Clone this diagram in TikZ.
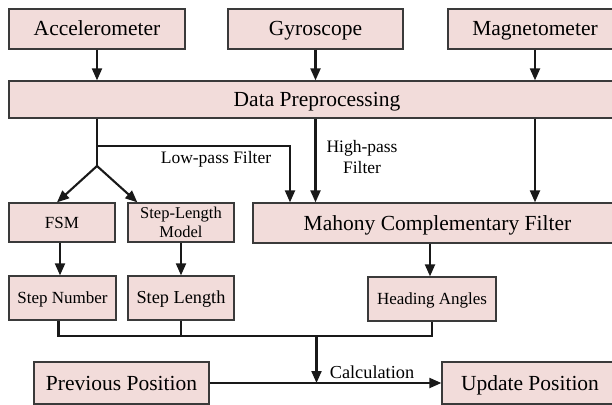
\documentclass[tikz,border=0pt]{standalone}
\usepackage{fontspec}
\setmainfont{Liberation Serif}
\usetikzlibrary{arrows.meta,calc}
\definecolor{boxfill}{RGB}{242,220,218}
\definecolor{boxline}{RGB}{58,58,58}
\begin{document}
\begin{tikzpicture}[x=1pt,y=-1pt,
  box/.style={draw=boxline, fill=boxfill, line width=1.3pt, rectangle, inner sep=0pt, align=center},
  big/.style={font=\fontsize{21.5}{24}\selectfont, text height=14pt, text depth=0pt},
  small/.style={font=\fontsize{17}{19}\selectfont, text height=11.2pt, text depth=0pt},
  conn/.style={line width=2.1pt, draw=black!90},
  arr/.style={conn, -{Triangle[length=12pt,width=10pt]}},
  lbl/.style={font=\fontsize{17.5}{21}\selectfont, align=center, inner sep=0pt}]
\useasboundingbox (0,0) rectangle (612,404);
\clip (0,0) rectangle (612,404);

% sensors
\node[box,big,minimum width=176pt,minimum height=40pt] (acc)  at (97,29)    {Accelerometer};
\node[box,big,minimum width=175pt,minimum height=40pt] (gyro) at (315.5,29) {Gyroscope};
\node[box,big,minimum width=174pt,minimum height=40pt] (mag)  at (535,29)   {Magnetometer};

% preprocessing
\node[box,big,minimum width=616pt,minimum height=37pt] (dp) at (317,99.5) {Data Preprocessing};

% processing stage
\node[box,small,minimum width=106pt,minimum height=39pt] (fsm) at (62,222.5) {FSM};
\node[box,minimum width=106pt,minimum height=39pt,font=\fontsize{16.5}{19.5}\selectfont] (slm) at (181,222.5) {Step-Length\\Model};
\node[box,big,minimum width=369pt,minimum height=40pt] (mahony) at (437.5,223) {Mahony Complementary Filter};

% intermediate results
\node[box,small,minimum width=107pt,minimum height=44pt] (stepnum) at (62.5,298) {Step Number};
\node[box,small,minimum width=106pt,minimum height=44pt,font=\fontsize{18.3}{20}\selectfont] (steplen) at (181,298) {Step Length};
\node[box,small,minimum width=128pt,minimum height=44pt] (heading) at (432,299) {Heading Angles};

% positions
\node[box,big,minimum width=175pt,minimum height=42pt] (prev)   at (121.5,383) {Previous Position};
\node[box,big,minimum width=176pt,minimum height=42pt] (update) at (530,383)   {Update Position};

% sensors into preprocessing
\draw[arr] (acc.south)  -- (acc.south |- dp.north);
\draw[arr] (gyro.south) -- (gyro.south |- dp.north);
\draw[arr] (mag.south)  -- (mag.south |- dp.north);

% accelerometer branch
\coordinate (lp)    at (97,146);
\coordinate (lpc)   at (290,146);
\coordinate (split) at (97,166);
\draw[conn] (acc.south |- dp.south) -- (split);
\draw[arr] (lp) -- (lpc) -- (lpc |- mahony.north);
\draw[arr] (split) -- ($(fsm.north)+(-5,0)$);
\draw[arr] (split) -- ($(slm.north west)+(10,0)$);

% gyroscope and magnetometer into the filter
\draw[arr] (gyro.south |- dp.south) -- (gyro.south |- mahony.north);
\draw[arr] (mag.south |- dp.south)  -- (mag.south |- mahony.north);

% stage outputs
\draw[arr] ($(fsm.south)+(-2,0)$) -- ($(stepnum.north)+(-2.5,0)$);
\draw[arr] (slm.south) -- (slm.south |- steplen.north);
\draw[arr] ($(heading.north |- mahony.south)+(-2,0)$) -- ($(heading.north)+(-2,0)$);

% combination
\coordinate (join) at (316.5,336);
\draw[conn] ($(stepnum.south)+(-4,0)$) -- ($(stepnum.south |- join)+(-4,0)$) -- (heading.south |- join) -- (heading.south);
\draw[conn] (steplen.south) -- (steplen.south |- join);
\draw[arr] (join) -- (join |- prev.east);
\draw[arr] (prev.east) -- (update.west);

% labels
\node[lbl] (lowlbl)  at (216,159) {Low-pass Filter};
\node[lbl] (highlbl) at (362,157) {High-pass\\Filter};
\node[lbl,font=\fontsize{18.3}{21}\selectfont] (calclbl) at (372,372) {Calculation};
\end{tikzpicture}
\end{document}
